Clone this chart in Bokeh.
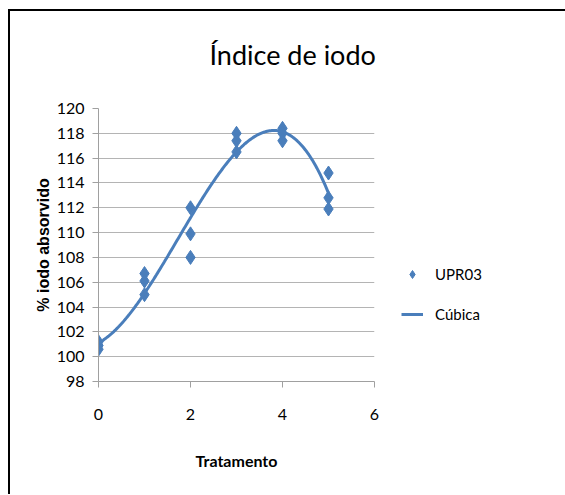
import numpy as np
from bokeh.plotting import figure
from bokeh.models import Range1d, FixedTicker, Legend, LegendItem, Title
from bokeh.embed import file_html
from bokeh.resources import INLINE

# ---- data ----
tratamento = [0, 0, 0, 1, 1, 1, 2, 2, 2, 3, 3, 3, 4, 4, 4, 5, 5, 5]
iodo = [101.2, 100.9, 100.6, 106.7, 106.1, 105.0, 112.0, 109.9, 108.0,
        118.0, 117.4, 116.5, 118.4, 118.0, 117.4, 114.8, 112.8, 111.9]
x_ticks = [0, 2, 4, 6]
y_ticks = [98, 100, 102, 104, 106, 108, 110, 112, 114, 116, 118, 120]
titulo = "Índice de iodo"
serie_nome = "UPR03"
ajuste_nome = "Cúbica"

BLUE = "#4A7EBB"
FONT = "Lato"

# cubic trendline (least squares fit of the observations, as the spreadsheet does)
coef = np.polyfit(tratamento, iodo, 3)
xs = np.linspace(min(tratamento), max(tratamento), 200)
ys = np.polyval(coef, xs)

p = figure(frame_width=276, frame_height=273, output_backend="svg", toolbar_location=None,
           x_range=Range1d(x_ticks[0], x_ticks[-1]), y_range=Range1d(y_ticks[0], y_ticks[-1]),
           min_border_left=88, min_border_right=191, min_border_top=97, min_border_bottom=113)
p.styles = {"margin-left": "8px", "margin-top": "9px",
            "border-top": "2px solid #000000", "border-left": "2px solid #000000"}
p.outline_line_color = None

# spacer between frame and title (closest to the frame), then the real title
p.add_layout(Title(text=" ", text_font_size="1px", standoff=33), "above")
p.add_layout(Title(text=titulo, text_font=FONT, text_font_size="27px",
                   text_font_style="normal", text_color="#000000",
                   align="left", offset=111, standoff=4), "above")

pts = p.scatter(tratamento, iodo, marker="diamond", size=14, color=BLUE)
ln = p.line(xs, ys, line_color=BLUE, line_width=3)

p.xgrid.visible = False
p.ygrid.grid_line_color = "#B4B4B4"
p.ygrid.grid_line_width = 1

for ax in (p.xaxis[0], p.yaxis[0]):
    ax.axis_line_color = "#A0A0A0"
    ax.major_tick_line_color = "#A0A0A0"
    ax.minor_tick_line_color = None
    ax.major_tick_in = 0
    ax.major_tick_out = 6
    ax.major_label_text_font = FONT
    ax.major_label_text_font_size = "16px"
    ax.major_label_text_color = "#000000"

p.xaxis[0].ticker = FixedTicker(ticks=x_ticks)
p.yaxis[0].ticker = FixedTicker(ticks=y_ticks)
p.xaxis[0].major_label_standoff = 21
p.yaxis[0].major_label_standoff = 8

p.xaxis[0].axis_label = "Tratamento"
p.xaxis[0].axis_label_text_font = FONT
p.xaxis[0].axis_label_text_font_style = "bold"
p.xaxis[0].axis_label_text_font_size = "16px"
p.xaxis[0].axis_label_standoff = 28
p.xaxis[0].axis_label_text_color = "#000000"

p.yaxis[0].axis_label = "% iodo absorvido"
p.yaxis[0].axis_label_text_font = "Liberation Sans"
p.yaxis[0].axis_label_text_font_style = "bold"
p.yaxis[0].axis_label_text_font_size = "16px"
p.yaxis[0].axis_label_standoff = 2
p.yaxis[0].axis_label_text_color = "#000000"

legend = Legend(items=[LegendItem(label=serie_nome, renderers=[pts]),
                       LegendItem(label=ajuste_nome, renderers=[ln])],
                location="top_left")
legend.title = " "
legend.title_text_font_size = "2px"
legend.title_standoff = 127
legend.glyph_width = 22
legend.glyph_height = 20
legend.label_height = 20
legend.spacing = 20
legend.label_standoff = 12
legend.padding = 10
legend.margin = 17
legend.border_line_alpha = 0
legend.background_fill_alpha = 0
legend.label_text_font = FONT
legend.label_text_font_size = "15px"
legend.label_text_color = "#000000"
p.add_layout(legend, "right")

open("out.html", "w").write(file_html(p, INLINE))
